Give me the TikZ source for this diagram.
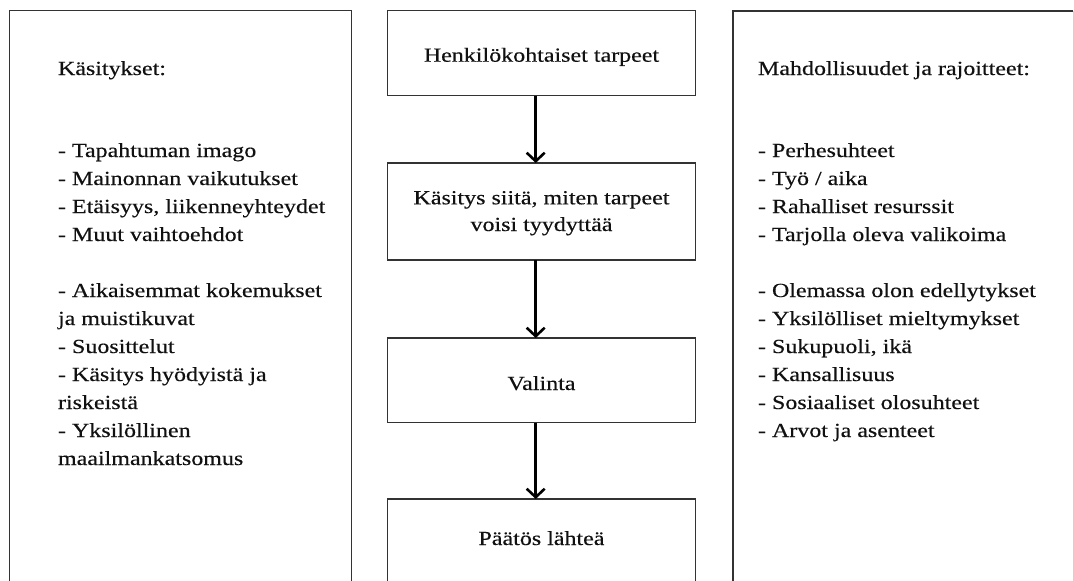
\documentclass[tikz,border=0pt]{standalone}
\usepackage{fontspec}
\setmainfont[FakeStretch=1.2,FakeBold=0.35]{Liberation Serif}
\usetikzlibrary{arrows.meta}
\definecolor{boxline}{HTML}{333333}
\definecolor{txt}{HTML}{111111}
\tikzset{
  box/.style={draw=boxline, line width=1.3pt, rectangle, inner sep=0pt, outer sep=0pt, fill=none},
  lbl/.style={inner sep=0pt, outer sep=0pt, text=txt, font=\fontsize{20}{28}\selectfont},
  flow/.style={line width=2.6pt, black, -{Straight Barb[length=8.5pt,width=18pt,line width=2.6pt]}}
}
\begin{document}
\begin{tikzpicture}[x=1pt,y=-1pt]
\useasboundingbox (0,0) rectangle (1074,581);
\clip (0,0) rectangle (1074,581);
\fill[white] (0,0) rectangle (1074,581);
% side boxes (open at the bottom)
\node[box, anchor=north west, minimum width=342.2pt, minimum height=620pt] (L) at (9.5,10.5) {};
\node[box, anchor=north west, minimum width=340.5pt, minimum height=620pt, draw=none] (R) at (732.7,10.7) {};
\draw[boxline, line width=1.6pt] (R.south west) -- (R.north west) -- (R.north east);
\draw[gray!35, line width=1.3pt] (R.north east) -- (R.south east);
% middle boxes
\node[box, anchor=north west, minimum width=308.4pt, minimum height=85pt] (b1) at (387.3,10.7) {};
\node[box, anchor=north west, minimum width=308.4pt, minimum height=97pt] (b2) at (387.3,163) {};
\node[box, anchor=north west, minimum width=308.4pt, minimum height=84.7pt] (b3) at (387.3,338) {};
\node[box, anchor=north west, minimum width=308.4pt, minimum height=90pt] (b4) at (387.3,499) {};
% middle texts
\node[lbl, anchor=base] (t1) at (541.5,61.7) {Henkilökohtaiset tarpeet};
\node[lbl, anchor=base] (t2a) at (541.5,204.3) {Käsitys siitä, miten tarpeet};
\node[lbl, anchor=base] (t2b) at (541.5,231) {voisi tyydyttää};
\node[lbl, anchor=base] (t3) at (541.5,390) {Valinta};
\node[lbl, anchor=base] (t4) at (541.5,545) {Päätös lähteä};
% arrows
\draw[flow] ([xshift=-5.8pt]b1.south) -- ([xshift=-5.8pt]b2.north);
\draw[flow] ([xshift=-5.8pt]b2.south) -- ([xshift=-5.8pt]b3.north);
\draw[flow] ([xshift=-5.8pt]b3.south) -- ([xshift=-5.8pt]b4.north);
% left texts
\node[lbl, anchor=base west] (lh) at (58,75) {Käsitykset:};
\foreach \yy/\tt [count=\i] in {157/{- Tapahtuman imago}, 185/{- Mainonnan vaikutukset}, 213/{- Etäisyys, liikenneyhteydet}, 241/{- Muut vaihtoehdot}, 297/{- Aikaisemmat kokemukset}, 325/{ja muistikuvat}, 353/{- Suosittelut}, 381/{- Käsitys hyödyistä ja}, 409/{riskeistä}, 437/{- Yksilöllinen}, 465/{maailmankatsomus}}
  \node[lbl, anchor=base west] (l\i) at (58,\yy) {\tt};
% right texts
\node[lbl, anchor=base west] (rh) at (758,75) {Mahdollisuudet ja rajoitteet:};
\foreach \yy/\tt [count=\i] in {157/{- Perhesuhteet}, 185/{- Työ / aika}, 213/{- Rahalliset resurssit}, 241/{- Tarjolla oleva valikoima}, 297/{- Olemassa olon edellytykset}, 325/{- Yksilölliset mieltymykset}, 353/{- Sukupuoli, ikä}, 381/{- Kansallisuus}, 409/{- Sosiaaliset olosuhteet}, 437/{- Arvot ja asenteet}}
  \node[lbl, anchor=base west] (r\i) at (758,\yy) {\tt};
\end{tikzpicture}
\end{document}
